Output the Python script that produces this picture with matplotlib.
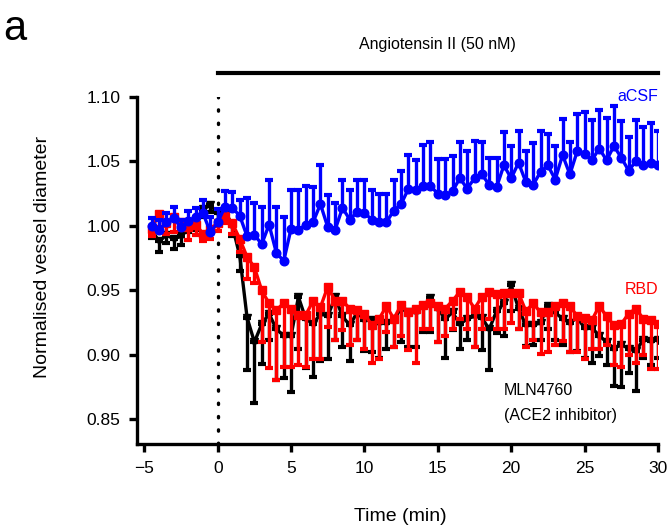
import numpy as np
import matplotlib.pyplot as plt

plt.rcParams['font.family'] = ['Liberation Sans', 'DejaVu Sans']

# time points (min)
time = [-4.5, -4, -3.5, -3, -2.5, -2, -1.5, -1, -0.5, 0,
        0.5, 1, 1.5, 2, 2.5, 3, 3.5, 4, 4.5, 5,
        5.5, 6, 6.5, 7, 7.5, 8, 8.5, 9, 9.5, 10,
        10.5, 11, 11.5, 12, 12.5, 13, 13.5, 14, 14.5, 15,
        15.5, 16, 16.5, 17, 17.5, 18, 18.5, 19, 19.5, 20,
        20.5, 21, 21.5, 22, 22.5, 23, 23.5, 24, 24.5, 25,
        25.5, 26, 26.5, 27, 27.5, 28, 28.5, 29, 29.5, 30]

acsf = [1.000, 0.997, 1.003, 1.006, 0.999, 1.004, 1.007, 1.010, 0.995, 1.003,
        1.015, 1.014, 1.008, 0.992, 0.993, 0.986, 1.001, 0.979, 0.973, 0.998,
        0.997, 1.001, 1.003, 1.017, 0.999, 0.997, 1.014, 1.005, 1.011, 1.010,
        1.005, 1.003, 1.003, 1.012, 1.017, 1.029, 1.028, 1.031, 1.031, 1.025,
        1.024, 1.027, 1.037, 1.029, 1.037, 1.040, 1.032, 1.030, 1.047, 1.037,
        1.049, 1.034, 1.032, 1.042, 1.047, 1.036, 1.055, 1.040, 1.058, 1.056,
        1.051, 1.060, 1.051, 1.062, 1.053, 1.043, 1.050, 1.047, 1.049, 1.047]
acsf_err = [0.006, 0.008, 0.007, 0.009, 0.006, 0.008, 0.007, 0.010, 0.012, 0.010,
            0.012, 0.012, 0.012, 0.030, 0.025, 0.029, 0.035, 0.036, 0.034, 0.030,
            0.031, 0.030, 0.027, 0.030, 0.025, 0.021, 0.022, 0.023, 0.025, 0.026,
            0.023, 0.022, 0.022, 0.024, 0.026, 0.026, 0.023, 0.032, 0.034, 0.027,
            0.028, 0.027, 0.028, 0.029, 0.029, 0.025, 0.021, 0.023, 0.026, 0.025,
            0.025, 0.024, 0.032, 0.032, 0.024, 0.026, 0.028, 0.025, 0.029, 0.032,
            0.031, 0.030, 0.033, 0.031, 0.028, 0.026, 0.032, 0.030, 0.031, 0.027]

rbd = [0.998, 1.009, 1.002, 1.007, 1.003, 0.999, 1.001, 0.994, 0.998, 1.002,
       1.008, 1.002, 0.990, 0.976, 0.968, 0.950, 0.940, 0.935, 0.940, 0.936,
       0.931, 0.931, 0.942, 0.937, 0.953, 0.942, 0.942, 0.936, 0.935, 0.932,
       0.923, 0.928, 0.938, 0.928, 0.939, 0.933, 0.936, 0.939, 0.940, 0.938,
       0.936, 0.942, 0.949, 0.945, 0.936, 0.945, 0.949, 0.947, 0.948, 0.948,
       0.948, 0.934, 0.940, 0.933, 0.933, 0.938, 0.940, 0.938, 0.930, 0.929,
       0.927, 0.938, 0.930, 0.923, 0.924, 0.932, 0.936, 0.928, 0.927, 0.924]
rbd_err = [0.006, 0.010, 0.008, 0.012, 0.006, 0.010, 0.008, 0.006, 0.008, 0.006,
           0.006, 0.008, 0.010, 0.017, 0.012, 0.040, 0.050, 0.054, 0.049, 0.045,
           0.039, 0.040, 0.045, 0.040, 0.031, 0.030, 0.023, 0.028, 0.023, 0.027,
           0.029, 0.031, 0.020, 0.022, 0.024, 0.029, 0.042, 0.019, 0.020, 0.028,
           0.021, 0.022, 0.021, 0.025, 0.030, 0.025, 0.021, 0.027, 0.028, 0.023,
           0.028, 0.028, 0.028, 0.032, 0.031, 0.030, 0.029, 0.036, 0.028, 0.032,
           0.022, 0.033, 0.022, 0.031, 0.033, 0.032, 0.042, 0.028, 0.038, 0.035]

mln = [0.997, 0.988, 0.993, 0.990, 0.992, 1.000, 1.003, 1.013, 1.016, 1.010,
       1.012, 1.000, 0.977, 0.929, 0.910, 0.924, 0.932, 0.920, 0.915, 0.915,
       0.945, 0.928, 0.924, 0.932, 0.930, 0.945, 0.930, 0.923, 0.933, 0.927,
       0.927, 0.925, 0.925, 0.928, 0.936, 0.933, 0.933, 0.938, 0.944, 0.936,
       0.928, 0.933, 0.924, 0.928, 0.930, 0.929, 0.920, 0.934, 0.940, 0.954,
       0.936, 0.923, 0.923, 0.925, 0.938, 0.933, 0.928, 0.925, 0.929, 0.921,
       0.921, 0.915, 0.910, 0.905, 0.908, 0.905, 0.903, 0.912, 0.911, 0.912]
mln_err = [0.006, 0.008, 0.006, 0.008, 0.007, 0.005, 0.006, 0.006, 0.005, 0.006,
           0.005, 0.008, 0.012, 0.041, 0.047, 0.031, 0.020, 0.039, 0.033, 0.044,
           0.040, 0.038, 0.041, 0.037, 0.033, 0.033, 0.024, 0.028, 0.021, 0.024,
           0.025, 0.027, 0.020, 0.022, 0.026, 0.027, 0.027, 0.020, 0.026, 0.026,
           0.030, 0.014, 0.019, 0.016, 0.024, 0.025, 0.032, 0.017, 0.025, 0.020,
           0.016, 0.016, 0.015, 0.013, 0.018, 0.021, 0.020, 0.023, 0.026, 0.023,
           0.027, 0.016, 0.018, 0.029, 0.033, 0.019, 0.031, 0.014, 0.019, 0.014]

zeros = np.zeros(len(time))

fig = plt.figure(figsize=(6.7, 5.32), dpi=100)
ax = fig.add_axes([0.2045, 0.1654, 0.7775, 0.6523])

common = dict(lw=2.4, elinewidth=2.4, capsize=3.2, capthick=3.0, markersize=6.2)
ax.errorbar(time, mln, yerr=[mln_err, zeros], color='black', marker='v', zorder=2, **common)
ax.errorbar(time, rbd, yerr=[rbd_err, zeros], color='#ff0000', marker='s', zorder=3, **common)
ax.errorbar(time, acsf, yerr=[zeros, acsf_err], color='#0000ff', marker='o', zorder=4, **common)

ax.axvline(0, color='black', lw=2.4, linestyle=(0, (0.4, 3.6)),
           dash_capstyle='round', zorder=1)

ax.set_xlim(-5.5, 30)
ax.set_ylim(0.831, 1.10)
ax.set_xticks([-5, 0, 5, 10, 15, 20, 25, 30])
ax.set_yticks([0.85, 0.90, 0.95, 1.00, 1.05, 1.10])
ax.set_yticklabels(['0.85', '0.90', '0.95', '1.00', '1.05', '1.10'])
for s in ['top', 'right']:
    ax.spines[s].set_visible(False)
for s in ['left', 'bottom']:
    ax.spines[s].set_linewidth(2.4)
ax.tick_params(width=2.4, length=6, labelsize=12.5, pad=6)

ax.set_xlabel('Time (min)', fontsize=14)
ax.set_ylabel('Normalised vessel diameter', fontsize=14)
ax.xaxis.set_label_coords(0.505, -0.185)
ax.yaxis.set_label_coords(-0.165, 0.54)

# Angiotensin II bar
ax.plot([0, 30], [1.1187, 1.1187], color='black', lw=3, clip_on=False)
ax.text(15, 1.1405, 'Angiotensin II (50 nM)', ha='center', va='center', fontsize=11.5)

ax.text(30, 1.100, 'aCSF', color='#0000ff', ha='right', va='center', fontsize=11.5)
ax.text(30, 0.951, 'RBD', color='#ff0000', ha='right', va='center', fontsize=11.5)
ax.text(19.5, 0.8725, 'MLN4760', color='black', ha='left', va='center', fontsize=11.5)
ax.text(19.5, 0.853, '(ACE2 inhibitor)', color='black', ha='left', va='center', fontsize=11.5)

fig.text(0.005, 0.945, 'a', fontsize=30, ha='left', va='center')

fig.savefig('out.png', dpi=100)
